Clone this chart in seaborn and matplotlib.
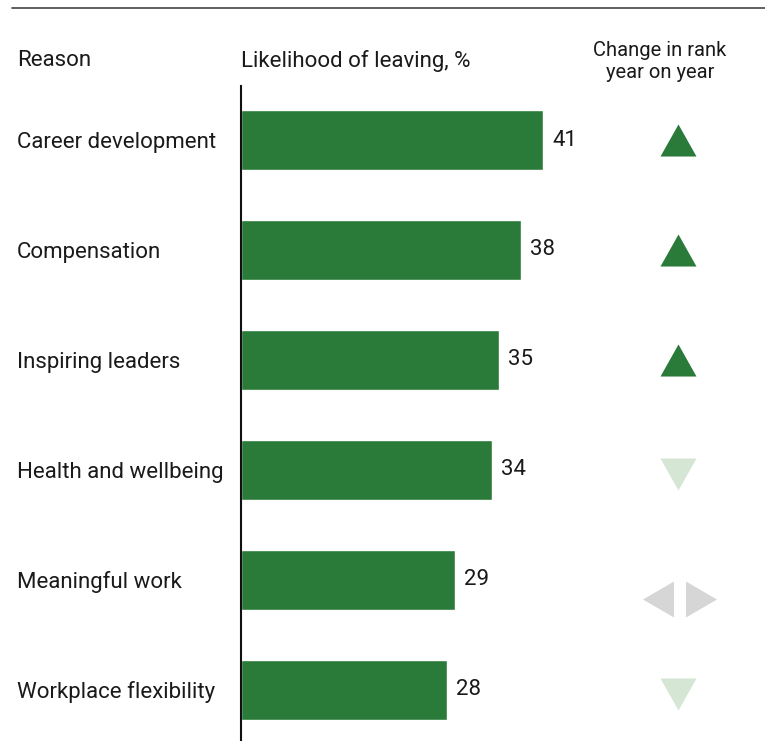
import numpy as np
import pandas as pd
import matplotlib
matplotlib.use("Agg")
import matplotlib.pyplot as plt
from matplotlib.lines import Line2D
import seaborn as sns

reasons = ["Career development", "Compensation", "Inspiring leaders",
           "Health and wellbeing", "Meaningful work", "Workplace flexibility"]
likelihood = [41, 38, 35, 34, 29, 28]
rank_change = ["up", "up", "up", "down", "same", "down"]

GREEN = "#2a7a39"
LIGHT_GREEN = "#d6e6d4"
GREY = "#d6d6d6"
TEXT = "#1a1a1a"

sns.set_theme(style="white")
plt.rcParams["font.family"] = ["Roboto", "DejaVu Sans"]

df = pd.DataFrame({"reason": reasons, "value": likelihood, "change": rank_change})

fig = plt.figure(figsize=(7.65, 7.41), dpi=100)
ax = fig.add_axes([241 / 765, 0, 524 / 765, 655 / 741])

sns.barplot(data=df, x="value", y="reason", color=GREEN, saturation=1,
            width=0.545, ax=ax)

# value labels next to the bars
for t in ax.bar_label(ax.containers[0], padding=6.5, fontsize=16, color=TEXT):
    t.set_va("center")

# rank change markers
up = [(-1, -0.89), (1, -0.89), (0, 0.89)]
down = [(-1, 0.89), (1, 0.89), (0, -0.89)]
left = [(0.86, 1), (0.86, -1), (-0.86, 0)]
right = [(-0.86, 1), (-0.86, -1), (0.86, 0)]
ms = 36 * 0.72
for i, ch in enumerate(df["change"]):
    if ch == "up":
        ax.scatter([59.3], [i], marker=up, s=ms ** 2, color=GREEN, linewidths=0)
    elif ch == "down":
        ax.scatter([59.3], [i + 0.04], marker=down, s=ms ** 2, color=LIGHT_GREEN, linewidths=0)
    else:
        ax.scatter([56.6], [i + 0.17], marker=left, s=ms ** 2, color=GREY, linewidths=0)
        ax.scatter([62.35], [i + 0.17], marker=right, s=ms ** 2, color=GREY, linewidths=0)

ax.set_xlim(0, 524 / 7.37)
ax.set_ylim(5.464, -0.491)
ax.set_xlabel("")
ax.set_ylabel("")
ax.set_xticks([])
ax.tick_params(axis="y", length=0, pad=224 * 0.72, labelsize=16, labelcolor=TEXT)
for lbl in ax.get_yticklabels():
    lbl.set_ha("left")

for side in ["top", "right", "bottom"]:
    ax.spines[side].set_visible(False)
ax.spines["left"].set_color("#111111")
ax.spines["left"].set_linewidth(1.5)

# headers
fig.text(17 / 765, 1 - 61 / 741, "Reason", fontsize=16, color=TEXT, va="center")
fig.text(241 / 765, 1 - 61 / 741, "Likelihood of leaving, %", fontsize=16, color=TEXT, va="center")
fig.text(660 / 765, 1 - 61 / 741, "Change in rank\nyear on year", fontsize=14.5, color=TEXT,
         va="center", ha="center", linespacing=1.2)

fig.add_artist(Line2D([12 / 765, 1], [1 - 8 / 741, 1 - 8 / 741], color="#444444", lw=1.2))

fig.savefig("out.png", dpi=100, facecolor="white")
